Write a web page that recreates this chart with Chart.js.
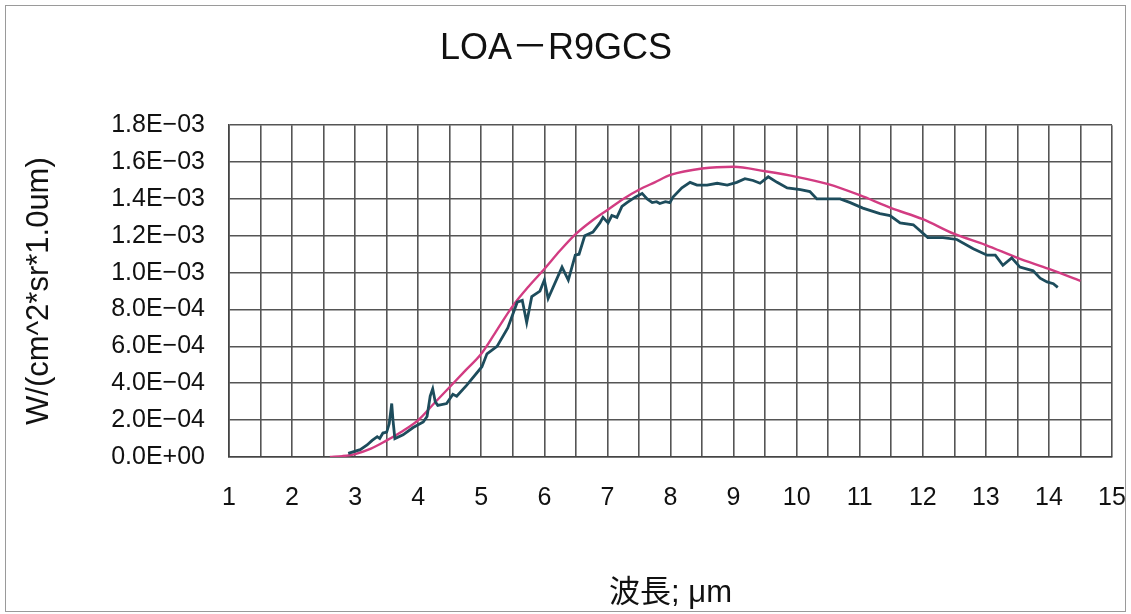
<!DOCTYPE html>
<html>
<head>
    <title>LOA-R9GCS</title>
    <script src="https://cdn.jsdelivr.net/npm/chart.js"></script>
    <style>
        body {
            margin: 0;
            background: #fff;
        }
        .wrap {
            position: relative;
            width: 1131px;
            height: 614px;
        }
        .frame {
            position: absolute;
            left: 5px;
            top: 5px;
            width: 1119px;
            height: 605px;
            border: 1px solid #9a9a9a;
            pointer-events: none;
        }
    </style>
</head>
<body>
    <div class="wrap">
        <canvas id="chart" width="1131" height="614"></canvas>
        <div class="frame"></div>
    </div>
    <script>
        // measured spectrum (dark line)
        var measuredWl = [2.89, 3.08, 3.19, 3.27, 3.35, 3.39, 3.44, 3.50, 3.54, 3.58, 3.60, 3.63, 3.76, 3.92,
            4.08, 4.14, 4.19, 4.23, 4.27, 4.31, 4.45, 4.55, 4.61, 4.77, 5.01, 5.09, 5.25, 5.42, 5.57, 5.65,
            5.72, 5.80, 5.93, 6.00, 6.06, 6.28, 6.38, 6.49, 6.55, 6.64, 6.77, 6.88, 6.93, 7.01, 7.07, 7.15,
            7.23, 7.31, 7.44, 7.55, 7.63, 7.71, 7.78, 7.83, 7.92, 7.99, 8.04, 8.18, 8.31, 8.42, 8.58, 8.74,
            8.90, 9.05, 9.18, 9.31, 9.42, 9.55, 9.69, 9.85, 10.06, 10.21, 10.32, 10.69, 10.85, 11.05, 11.32,
            11.48, 11.64, 11.85, 12.08, 12.32, 12.54, 12.80, 13.02, 13.15, 13.27, 13.41, 13.54, 13.75, 13.86,
            13.97, 14.07, 14.14];
        var measuredVal = [0.02e-3, 0.04e-3, 0.065e-3, 0.09e-3, 0.11e-3, 0.10e-3, 0.13e-3, 0.135e-3, 0.18e-3, 0.29e-3,
            0.20e-3, 0.10e-3, 0.12e-3, 0.16e-3, 0.19e-3, 0.22e-3, 0.33e-3, 0.37e-3, 0.30e-3, 0.28e-3, 0.29e-3,
            0.34e-3, 0.33e-3, 0.39e-3, 0.49e-3, 0.56e-3, 0.60e-3, 0.70e-3, 0.84e-3, 0.85e-3, 0.73e-3, 0.87e-3,
            0.90e-3, 0.96e-3, 0.86e-3, 1.03e-3, 0.96e-3, 1.095e-3, 1.10e-3, 1.20e-3, 1.22e-3, 1.27e-3, 1.30e-3,
            1.27e-3, 1.31e-3, 1.30e-3, 1.36e-3, 1.38e-3, 1.41e-3, 1.43e-3, 1.40e-3, 1.38e-3, 1.385e-3, 1.375e-3,
            1.385e-3, 1.38e-3, 1.41e-3, 1.46e-3, 1.49e-3, 1.475e-3, 1.475e-3, 1.485e-3, 1.475e-3, 1.49e-3,
            1.51e-3, 1.50e-3, 1.485e-3, 1.52e-3, 1.49e-3, 1.46e-3, 1.45e-3, 1.44e-3, 1.40e-3, 1.40e-3, 1.38e-3,
            1.35e-3, 1.32e-3, 1.31e-3, 1.27e-3, 1.26e-3, 1.19e-3, 1.19e-3, 1.18e-3, 1.13e-3, 1.095e-3, 1.095e-3,
            1.04e-3, 1.08e-3, 1.03e-3, 1.01e-3, 0.97e-3, 0.95e-3, 0.94e-3, 0.92e-3];

        // smooth reference curve (magenta)
        var refWl = [2.6, 2.8, 3.0, 3.25, 3.5, 3.75, 4.0, 4.25, 4.5, 4.75, 5.0, 5.25, 5.5, 5.75, 6.0, 6.25, 6.5,
            6.75, 7.0, 7.25, 7.5, 7.75, 8.0, 8.5, 9.0, 9.5, 10.0, 10.5, 11.0, 11.5, 12.0, 12.5, 13.0, 13.5, 14.0, 14.5];
        var refVal = [0, 0.005e-3, 0.016e-3, 0.045e-3, 0.09e-3, 0.14e-3, 0.20e-3, 0.29e-3, 0.38e-3, 0.47e-3,
            0.56e-3, 0.69e-3, 0.82e-3, 0.925e-3, 1.02e-3, 1.12e-3, 1.21e-3, 1.28e-3, 1.34e-3, 1.40e-3, 1.45e-3,
            1.49e-3, 1.53e-3, 1.565e-3, 1.575e-3, 1.55e-3, 1.52e-3, 1.48e-3, 1.42e-3, 1.35e-3, 1.29e-3, 1.21e-3,
            1.15e-3, 1.08e-3, 1.02e-3, 0.955e-3];

        var yTickStep = 2e-4;
        var FONT = '"Liberation Sans", Arial, "Noto Sans CJK JP", sans-serif';

        function pts(xs, ys) {
            return xs.map(function (x, i) { return { x: x, y: ys[i] }; });
        }

        function sci(v) {
            if (Math.abs(v) < 1e-12) return '0.0E+00';
            var p = v.toExponential(1).split('e');
            var e = parseInt(p[1], 10);
            return p[0] + 'E' + (e < 0 ? '\u2212' : '+') + String(Math.abs(e)).padStart(2, '0');
        }

        var ctx = document.getElementById('chart').getContext('2d');
        var chart = new Chart(ctx, {
            type: 'scatter',
            data: {
                datasets: [{
                    data: pts(measuredWl, measuredVal),
                    showLine: true,
                    borderColor: '#1d4c5c',
                    borderWidth: 2.8,
                    pointRadius: 0,
                    tension: 0
                }, {
                    data: pts(refWl, refVal),
                    showLine: true,
                    borderColor: '#d23c82',
                    borderWidth: 2.4,
                    pointRadius: 0,
                    cubicInterpolationMode: 'monotone'
                }]
            },
            options: {
                responsive: false,
                animation: false,
                layout: { padding: { left: 0, right: 19, top: 0, bottom: 0 } },
                plugins: {
                    legend: { display: false },
                    tooltip: { enabled: false },
                    title: {
                        display: true,
                        text: 'LOA\uFF0DR9GCS',
                        color: '#111',
                        font: { family: FONT, size: 36, weight: 'normal' },
                        padding: { top: 27, bottom: 55 }
                    }
                },
                scales: {
                    x: {
                        type: 'linear',
                        min: 1,
                        max: 15,
                        afterFit: function (s) {
                            s.height = 157;
                            s.paddingLeft = 0;
                            s.paddingRight = 0;
                        },
                        ticks: {
                            stepSize: 0.5,
                            autoSkip: false,
                            maxRotation: 0,
                            padding: 26,
                            color: '#111',
                            font: { family: FONT, size: 25 },
                            callback: function (v) { return Number.isInteger(v) ? String(v) : ''; }
                        },
                        grid: { color: '#555', lineWidth: 1.6, drawTicks: false },
                        border: { color: '#444', width: 1.6 },
                        title: {
                            display: true,
                            text: '波長; μm',
                            color: '#111',
                            font: { family: FONT, size: 31 },
                            padding: { top: 0, bottom: 2 }
                        }
                    },
                    y: {
                        min: 0,
                        max: 1.8e-3,
                        afterFit: function (s) { s.width = 229; },
                        ticks: {
                            stepSize: yTickStep,
                            padding: 24,
                            color: '#111',
                            font: { family: FONT, size: 25 },
                            callback: sci
                        },
                        grid: { color: '#555', lineWidth: 1.6, drawTicks: false },
                        border: { color: '#444', width: 1.6 },
                        title: {
                            display: true,
                            text: 'W/(cm^2*sr*1.0um)',
                            color: '#111',
                            font: { family: FONT, size: 31 },
                            padding: { top: 21, bottom: 0 }
                        }
                    }
                }
            }
        });
    </script>
</body>
</html>
